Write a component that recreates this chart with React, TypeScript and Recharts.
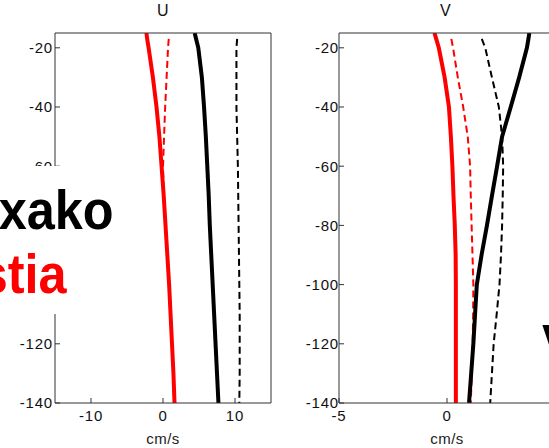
import React from 'react';
import { LineChart, Line, XAxis, YAxis } from 'recharts';

const depths = [-15, -17, -20, -30, -40, -50, -60, -70, -80, -90, -100, -110, -120, -130, -140];

const uRedSolid = [-2.3, -2.2, -2.0, -1.4, -0.9, -0.5, -0.2, 0.1, 0.35, 0.6, 0.85, 1.05, 1.25, 1.45, 1.6];
const uRedDash = [null, 0.8, 0.7, 0.5, 0.3, 0.15, 0.0, 0.1, 0.35, 0.6, 0.85, 1.05, 1.25, 1.4, 1.55];
const uBlackSolid = [4.4, 4.6, 4.9, 5.4, 5.7, 5.95, 6.15, 6.35, 6.5, 6.7, 6.9, 7.1, 7.3, 7.5, 7.7];
const uBlackDash = [null, 10.3, 10.2, 10.2, 10.2, 10.3, 10.4, 10.45, 10.5, 10.55, 10.6, 10.65, 10.65, 10.65, 10.6];

const vRedSolid = [-0.58, -0.5, -0.38, -0.11, 0.09, 0.18, 0.25, 0.3, 0.36, 0.4, 0.41, 0.41, 0.41, 0.41, 0.41];
const vRedDash = [null, 0.2, 0.28, 0.5, 0.75, 0.96, 1.07, 1.1, 1.14, 1.18, 1.22, 1.21, 1.19, 1.15, 1.1];
const vBlackSolid = [3.81, 3.77, 3.7, 3.34, 2.95, 2.55, 2.32, 2.08, 1.85, 1.6, 1.38, 1.3, 1.22, 1.12, 1.02];
const vBlackDash = [null, 1.61, 1.77, 2.08, 2.4, 2.55, 2.6, 2.58, 2.55, 2.5, 2.43, 2.3, 2.16, 2.08, 2.0];

const depthTicks = [-140, -120, -100, -80, -60, -40, -20];
const uTicks = [-10, 0, 10];
const vTicks = [-5, 0, 5];

const uData = depths.map((d, i) => ({ depth: d, rs: uRedSolid[i], rd: uRedDash[i], bs: uBlackSolid[i], bd: uBlackDash[i] }));
const vData = depths.map((d, i) => ({ depth: d, rs: vRedSolid[i], rd: vRedDash[i], bs: vBlackSolid[i], bd: vBlackDash[i] }));

const font = '"Liberation Sans", Arial, sans-serif';
const axisColor = '#333';
const tickStyle = { fontSize: 15, fill: '#111', fontFamily: font, letterSpacing: 0.8 };

const Panel = ({ data, xTicks, xDomain, yMargin }: any) => (
  <LineChart layout="vertical" width={290} height={448} data={data} margin={{ top: 32, right: 0, bottom: 0, left: 0 }}>
    <XAxis
      type="number"
      domain={xDomain}
      ticks={xTicks}
      allowDataOverflow
      stroke={axisColor}
      tick={tickStyle}
      fontSize={15}
      tickSize={-5}
      tickMargin={12}
      height={45}
      label={{ value: 'cm/s', position: 'insideBottom', offset: 4, style: { fontSize: 15, fill: '#222', fontFamily: font, letterSpacing: 0.5 } }}
    />
    <XAxis xAxisId="top" orientation="top" type="number" domain={xDomain} ticks={xTicks} height={1}
      stroke={axisColor} tickSize={-5} tickFormatter={() => ''} />
    <YAxis
      dataKey="depth"
      type="number"
      reversed
      domain={[-140, -15]}
      ticks={depthTicks}
      allowDataOverflow
      stroke={axisColor}
      tick={tickStyle}
      fontSize={15}
      tickSize={-5}
      tickMargin={5 + yMargin}
      width={55}
    />
    <YAxis yAxisId="right" orientation="right" type="number" reversed domain={[-140, -15]} ticks={depthTicks} width={19}
      stroke={axisColor} tickSize={-5} tickFormatter={() => ''} />
    <Line dataKey="bd" stroke="#000" strokeWidth={2} strokeDasharray="7 4" dot={false} isAnimationActive={false} />
    <Line dataKey="rd" stroke="#ff0000" strokeWidth={2} strokeDasharray="7 4" dot={false} isAnimationActive={false} />
    <Line dataKey="bs" stroke="#000" strokeWidth={4} dot={false} isAnimationActive={false} />
    <Line dataKey="rs" stroke="#ff0000" strokeWidth={4} dot={false} isAnimationActive={false} />
  </LineChart>
);

const title = { position: 'absolute' as const, top: 2, fontSize: 16, fontFamily: font, color: '#111' };
const big = {
  position: 'absolute' as const, fontSize: 56, fontWeight: 700, fontFamily: font, lineHeight: '56px',
  whiteSpace: 'nowrap' as const, transform: 'scaleX(0.9)', transformOrigin: 'right center',
};

export default function App() {
  return (
    <div style={{ position: 'absolute', left: 0, top: 0, width: 549, height: 448, overflow: 'hidden', background: '#fff' }}>
      <div style={{ position: 'absolute', left: 0, top: 0 }}>
        <Panel data={uData} xTicks={uTicks} xDomain={[-15, 15]} yMargin={2} />
      </div>
      <div style={{ position: 'absolute', left: 284, top: 0 }}>
        <Panel data={vData} xTicks={vTicks} xDomain={[-5, 5]} yMargin={0} />
      </div>
      <div style={{ ...title, left: 157 }}>U</div>
      <div style={{ ...title, left: 440 }}>V</div>
      <div style={{ position: 'absolute', left: 0, top: 166, width: 118, height: 148, background: '#fff' }} />
      <div style={{ ...big, left: -14, top: 182, color: '#000' }}>xako</div>
      <div style={{ ...big, left: -30, top: 246, color: '#ff0000' }}>stia</div>
      <div style={{ ...big, left: 542, top: 316, color: '#000', transformOrigin: 'left center' }}>V</div>
    </div>
  );
}
